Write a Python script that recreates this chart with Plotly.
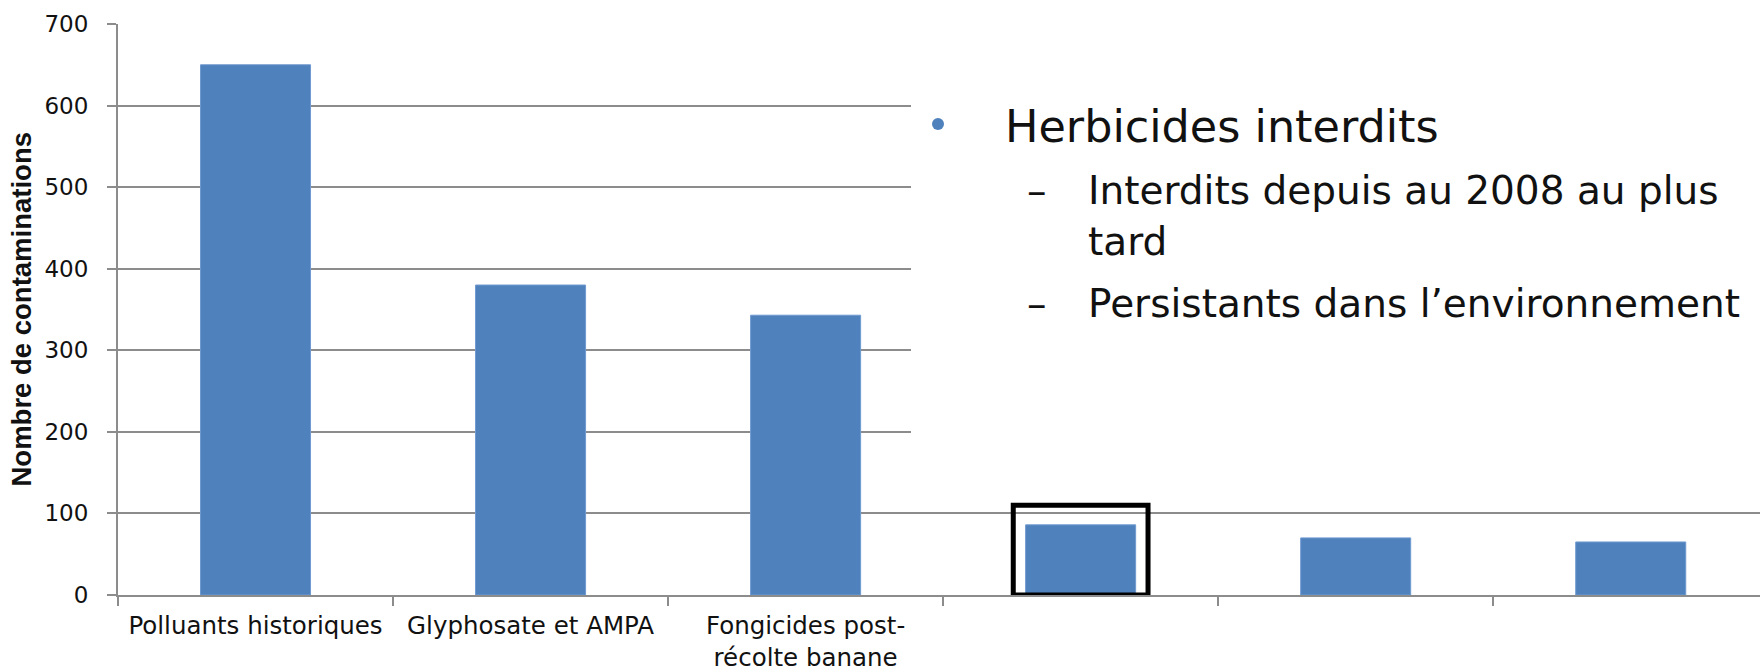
import plotly.graph_objects as go

# ---- data ----
categories = ["Polluants historiques", "Glyphosate et AMPA", "Fongicides post-récolte banane",
              "Herbicides interdits", "Catégorie 5", "Catégorie 6"]
tick_labels = ["Polluants historiques", "Glyphosate et AMPA", "Fongicides post-<br>récolte banane",
               "", "", ""]
values = [650, 380, 343, 86, 70, 65]
y_ticks = [0, 100, 200, 300, 400, 500, 600, 700]
y_title = "Nombre de contaminations"
text_main = "Herbicides interdits"
text_sub = ["Interdits depuis au 2008 au plus", "tard", "Persistants dans l’environnement"]
highlight_index = 3

# ---- geometry (pixels) ----
W, H = 1760, 672
L, R, T, B = 118, 0, 24, 77
PW, PH = W - L - R, H - T - B

def px(x):
    return (x - L) / PW

def py(y):
    return (H - B - y) / PH

BLUE = "#4F81BD"
GRID = "#8c8c8c"
FONT = "DejaVu Sans"

fig = go.Figure()
fig.add_trace(go.Bar(x=categories, y=values, width=0.4,
                     marker=dict(color=BLUE, line=dict(color="#6f9ad0", width=1))))

fig.update_layout(
    width=W, height=H,
    margin=dict(l=L, r=R, t=T, b=B, autoexpand=False),
    paper_bgcolor="white", plot_bgcolor="white",
    showlegend=False,
    font=dict(family=FONT, color="#111111"),
    xaxis=dict(
        type="category", tickmode="array", tickvals=categories, ticktext=tick_labels,
        tickson="boundaries", ticks="outside", ticklen=9, tickwidth=1.5, tickcolor=GRID,
        showline=True, linecolor=GRID, linewidth=2, showgrid=False, automargin=False,
        range=[-0.5, 5.47], tickfont=dict(family=FONT, size=24.5, color="#111111"),
        ticklabelstandoff=8,
    ),
    yaxis=dict(
        range=[0, 700], tickmode="array", tickvals=y_ticks, automargin=False,
        ticks="outside", ticklen=9, tickwidth=1.5, tickcolor=GRID,
        showline=True, linecolor=GRID, linewidth=2,
        showgrid=True, gridcolor=GRID, gridwidth=1.5, zeroline=False,
        tickfont=dict(family=FONT, size=23, color="#111111"),
        ticklabelstandoff=14,
    ),
)

shapes = []
# white text box hiding gridlines
shapes.append(dict(type="rect", xref="paper", yref="paper", layer="above",
                   x0=px(911), x1=1.02, y0=py(470), y1=1.1,
                   fillcolor="white", line=dict(width=0)))
# highlight rectangle around bar
shapes.append(dict(type="rect", xref="x", yref="y", layer="above",
                   x0=highlight_index - 0.245, x1=highlight_index + 0.245, y0=0, y1=110,
                   line=dict(color="black", width=5), fillcolor="rgba(0,0,0,0)"))
# bullet dot
shapes.append(dict(type="circle", xref="paper", yref="paper", layer="above",
                   x0=px(932), x1=px(944), y0=py(130), y1=py(118),
                   fillcolor=BLUE, line=dict(width=0)))
fig.update_layout(shapes=shapes)

ann = []
ann.append(dict(text="<b>" + y_title + "</b>", xref="paper", yref="paper", x=px(21), y=0.5,
                xanchor="center", yanchor="middle", textangle=-90, showarrow=False,
                font=dict(family="Liberation Sans", size=27.5, color="#111111")))

def text_at(txt, x, baseline, size):
    return dict(text=txt, xref="paper", yref="paper", x=px(x), y=py(baseline - 0.35 * size),
                xanchor="left", yanchor="middle", showarrow=False,
                font=dict(family=FONT, size=size, color="#111111"))

ann.append(text_at(text_main, 1003, 142, 44.5))
sub_baselines = [204, 255, 317]
for s, b in zip(text_sub, sub_baselines):
    ann.append(text_at(s, 1086, b, 39))
ann.append(text_at("–", 1025, sub_baselines[0], 39))
ann.append(text_at("–", 1025, sub_baselines[2], 39))
fig.update_layout(annotations=ann)

fig.write_html("out.html", config={"displayModeBar": False},
               post_script="document.body.style.margin='0';document.body.style.overflow='hidden';")
